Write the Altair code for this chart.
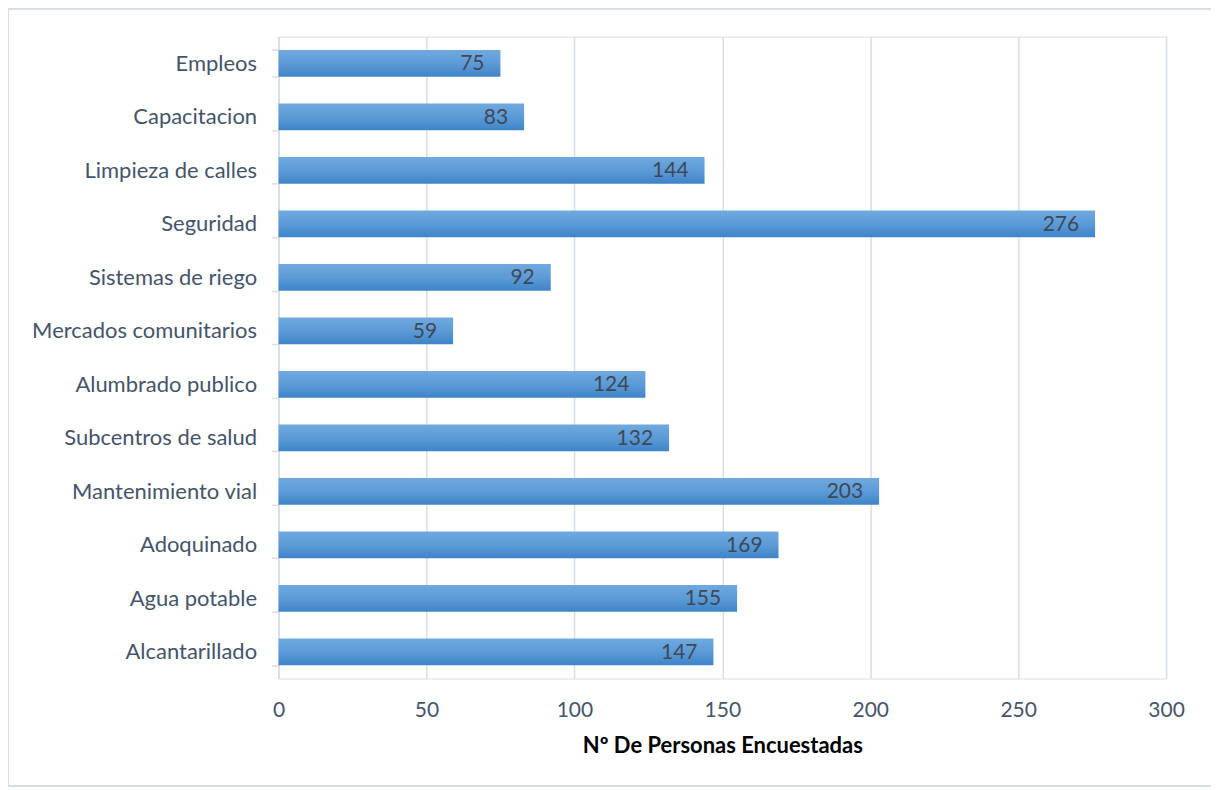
import altair as alt
import pandas as pd

categories = ["Empleos", "Capacitacion", "Limpieza de calles", "Seguridad",
              "Sistemas de riego", "Mercados comunitarios", "Alumbrado publico",
              "Subcentros de salud", "Mantenimiento vial", "Adoquinado",
              "Agua potable", "Alcantarillado"]
values = [75, 83, 144, 276, 92, 59, 124, 132, 203, 169, 155, 147]
x_ticks = [0, 50, 100, 150, 200, 250, 300]

df = pd.DataFrame({"cat": categories, "val": values})

W, H = 889, 643
FONT = "Lato"
GRID = "#d9dde4"
LABEL = "#44546a"

y_enc = alt.Y("cat:N", sort=categories, title=None,
              scale=alt.Scale(paddingInner=0.5, paddingOuter=0.25),
              axis=alt.Axis(labelFont=FONT, labelFontSize=22, labelColor=LABEL,
                            labelLimit=0,
                            domainColor=GRID, domainWidth=1.5, tickColor=GRID,
                            tickWidth=1.5, tickSize=7, tickBand="extent",
                            tickExtra=True, labelPadding=15, grid=False))
x_enc = alt.X("val:Q", title="Nº De Personas Encuestadas",
              scale=alt.Scale(domain=[0, 300], nice=False),
              axis=alt.Axis(values=x_ticks, labelFont=FONT, labelFontSize=21,
                            labelColor=LABEL, domain=False, ticks=False,
                            labelFlush=False,
                            labelPadding=21, gridColor=GRID, gridWidth=1.5,
                            titleFont=FONT, titleFontSize=22, titleFontWeight="bold",
                            titleColor="#000000", titlePadding=15))

grad = alt.Gradient(gradient="linear", x1=0, y1=0, x2=0, y2=1,
                    stops=[alt.GradientStop(color="#70a9df", offset=0),
                           alt.GradientStop(color="#5c9bd7", offset=0.5),
                           alt.GradientStop(color="#3f84c8", offset=1)])

bars = alt.Chart(df).mark_bar(color=grad).encode(x=x_enc, y=y_enc)
labels = alt.Chart(df).mark_text(align="right", baseline="middle", dx=-16, dy=1,
                                 font=FONT, fontSize=21, color="#3f4856").encode(
    x=alt.X("val:Q"), y=alt.Y("cat:N", sort=categories), text="val:Q")

frame = alt.Chart(df).mark_rect(fill=None, stroke="#d9dde4", strokeWidth=1.5, clip=False).encode(
    x=alt.value(-271), x2=alt.value(936), y=alt.value(-28), y2=alt.value(751))

chart = alt.layer(frame, bars, labels).properties(
    width=W, height=H,
    autosize=alt.AutoSizeParams(type="none"),
    padding={"left": 271, "top": 28, "right": 45, "bottom": 110},
).configure_view(stroke=None).configure(background="white")

chart.save("out.html", embed_options={"renderer": "svg", "actions": False})
